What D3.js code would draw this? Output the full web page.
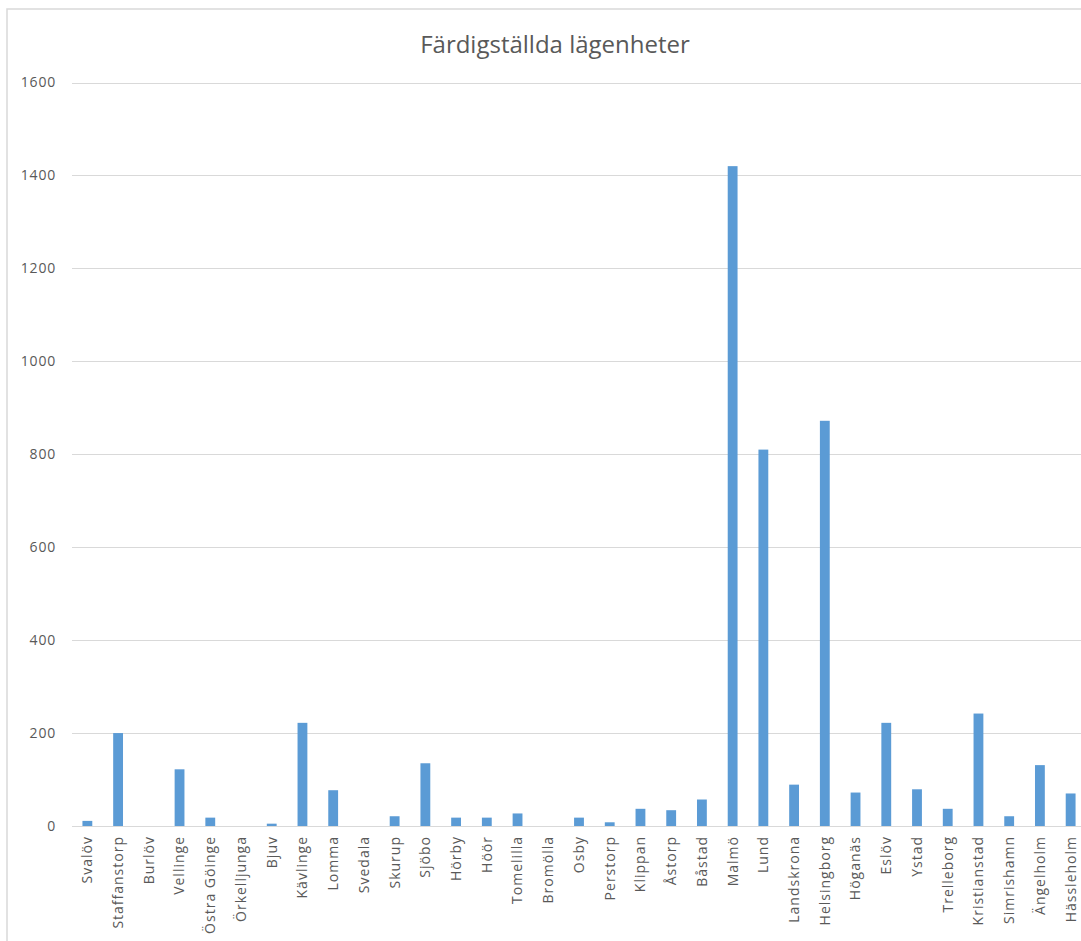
<!DOCTYPE html>
<html>
<head>
<meta charset="utf-8">
<script src="https://cdn.jsdelivr.net/npm/d3@7/dist/d3.min.js"></script>
<style>
  html, body { margin: 0; padding: 0; background: #ffffff; overflow: hidden; }
  svg { display: block; }
</style>
</head>
<body>
<svg id="chart" width="1081" height="941"></svg>
<script>
// Färdigställda lägenheter per kommun
const kommuner = ["Svalöv", "Staffanstorp", "Burlöv", "Vellinge", "Östra Göinge", "Örkelljunga",
  "Bjuv", "Kävlinge", "Lomma", "Svedala", "Skurup", "Sjöbo", "Hörby", "Höör", "Tomelilla",
  "Bromölla", "Osby", "Perstorp", "Klippan", "Åstorp", "Båstad", "Malmö", "Lund", "Landskrona",
  "Helsingborg", "Höganäs", "Eslöv", "Ystad", "Trelleborg", "Kristianstad", "Simrishamn",
  "Ängelholm", "Hässleholm"];
const lagenheter = [11, 200, 0, 122, 18, 0, 5, 222, 77, 0, 21, 135, 18, 18, 27, 0, 18, 8, 37, 34,
  57, 1420, 810, 89, 872, 72, 222, 79, 37, 242, 21, 131, 70];
const yTicks = [0, 200, 400, 600, 800, 1000, 1200, 1400, 1600];
const titel = "Färdigställda lägenheter";

const svg = d3.select("#chart");
const W = 1081, H = 941;
const font = "'Open Sans', 'Noto Sans', sans-serif";
const grey = "#595959";

// chart area frame
svg.append("rect")
  .attr("x", 7).attr("y", 9)
  .attr("width", W + 10).attr("height", H + 10)
  .attr("fill", "#ffffff")
  .attr("stroke", "#d9d9d9").attr("stroke-width", 1.5);

const plot = { left: 72, right: 1086, top: 82.5, bottom: 826 };

const x = d3.scaleBand()
  .domain(kommuner)
  .range([plot.left, plot.right])
  .paddingInner(0.68)
  .paddingOuter(0.34);

const y = d3.scaleLinear()
  .domain([0, 1600])
  .range([plot.bottom, plot.top]);

// horizontal gridlines
svg.append("g")
  .selectAll("line")
  .data(yTicks)
  .join("line")
  .attr("x1", plot.left).attr("x2", plot.right)
  .attr("y1", d => Math.round(y(d)) + 0.5).attr("y2", d => Math.round(y(d)) + 0.5)
  .attr("stroke", "#d9d9d9").attr("stroke-width", 1);

// y-axis tick labels
const yAxis = d3.axisLeft(y).tickValues(yTicks).tickSize(0).tickPadding(0)
  .tickFormat(d3.format("d"));
svg.append("g")
  .attr("transform", "translate(56,0)")
  .call(yAxis)
  .call(g => g.select(".domain").remove())
  .call(g => g.selectAll("text")
    .attr("fill", grey)
    .style("font-family", font)
    .style("font-size", "14px")
    .style("letter-spacing", "0.8px"));

// bars
svg.append("g")
  .selectAll("rect")
  .data(kommuner.map((k, i) => ({ k, v: lagenheter[i] })))
  .join("rect")
  .attr("x", d => x(d.k))
  .attr("width", x.bandwidth())
  .attr("y", d => y(d.v))
  .attr("height", d => y(0) - y(d.v))
  .attr("fill", "#5b9bd5");

// category labels, rotated
const xAxis = d3.axisBottom(x).tickSize(0).tickPadding(0);
svg.append("g")
  .attr("transform", `translate(0,${plot.bottom})`)
  .call(xAxis)
  .call(g => g.select(".domain").remove())
  .call(g => g.selectAll("text")
    .attr("fill", grey)
    .attr("text-anchor", "end")
    .attr("dy", "0.35em")
    .attr("transform", "translate(0,10) rotate(-90)")
    .attr("x", 0).attr("y", 0)
    .style("font-family", font)
    .style("font-size", "14px")
    .style("letter-spacing", "1px"));

// title
svg.append("text")
  .attr("x", 555).attr("y", 53)
  .attr("text-anchor", "middle")
  .attr("fill", grey)
  .style("font-family", font)
  .style("font-size", "24px")
  .text(titel);
</script>
</body>
</html>
